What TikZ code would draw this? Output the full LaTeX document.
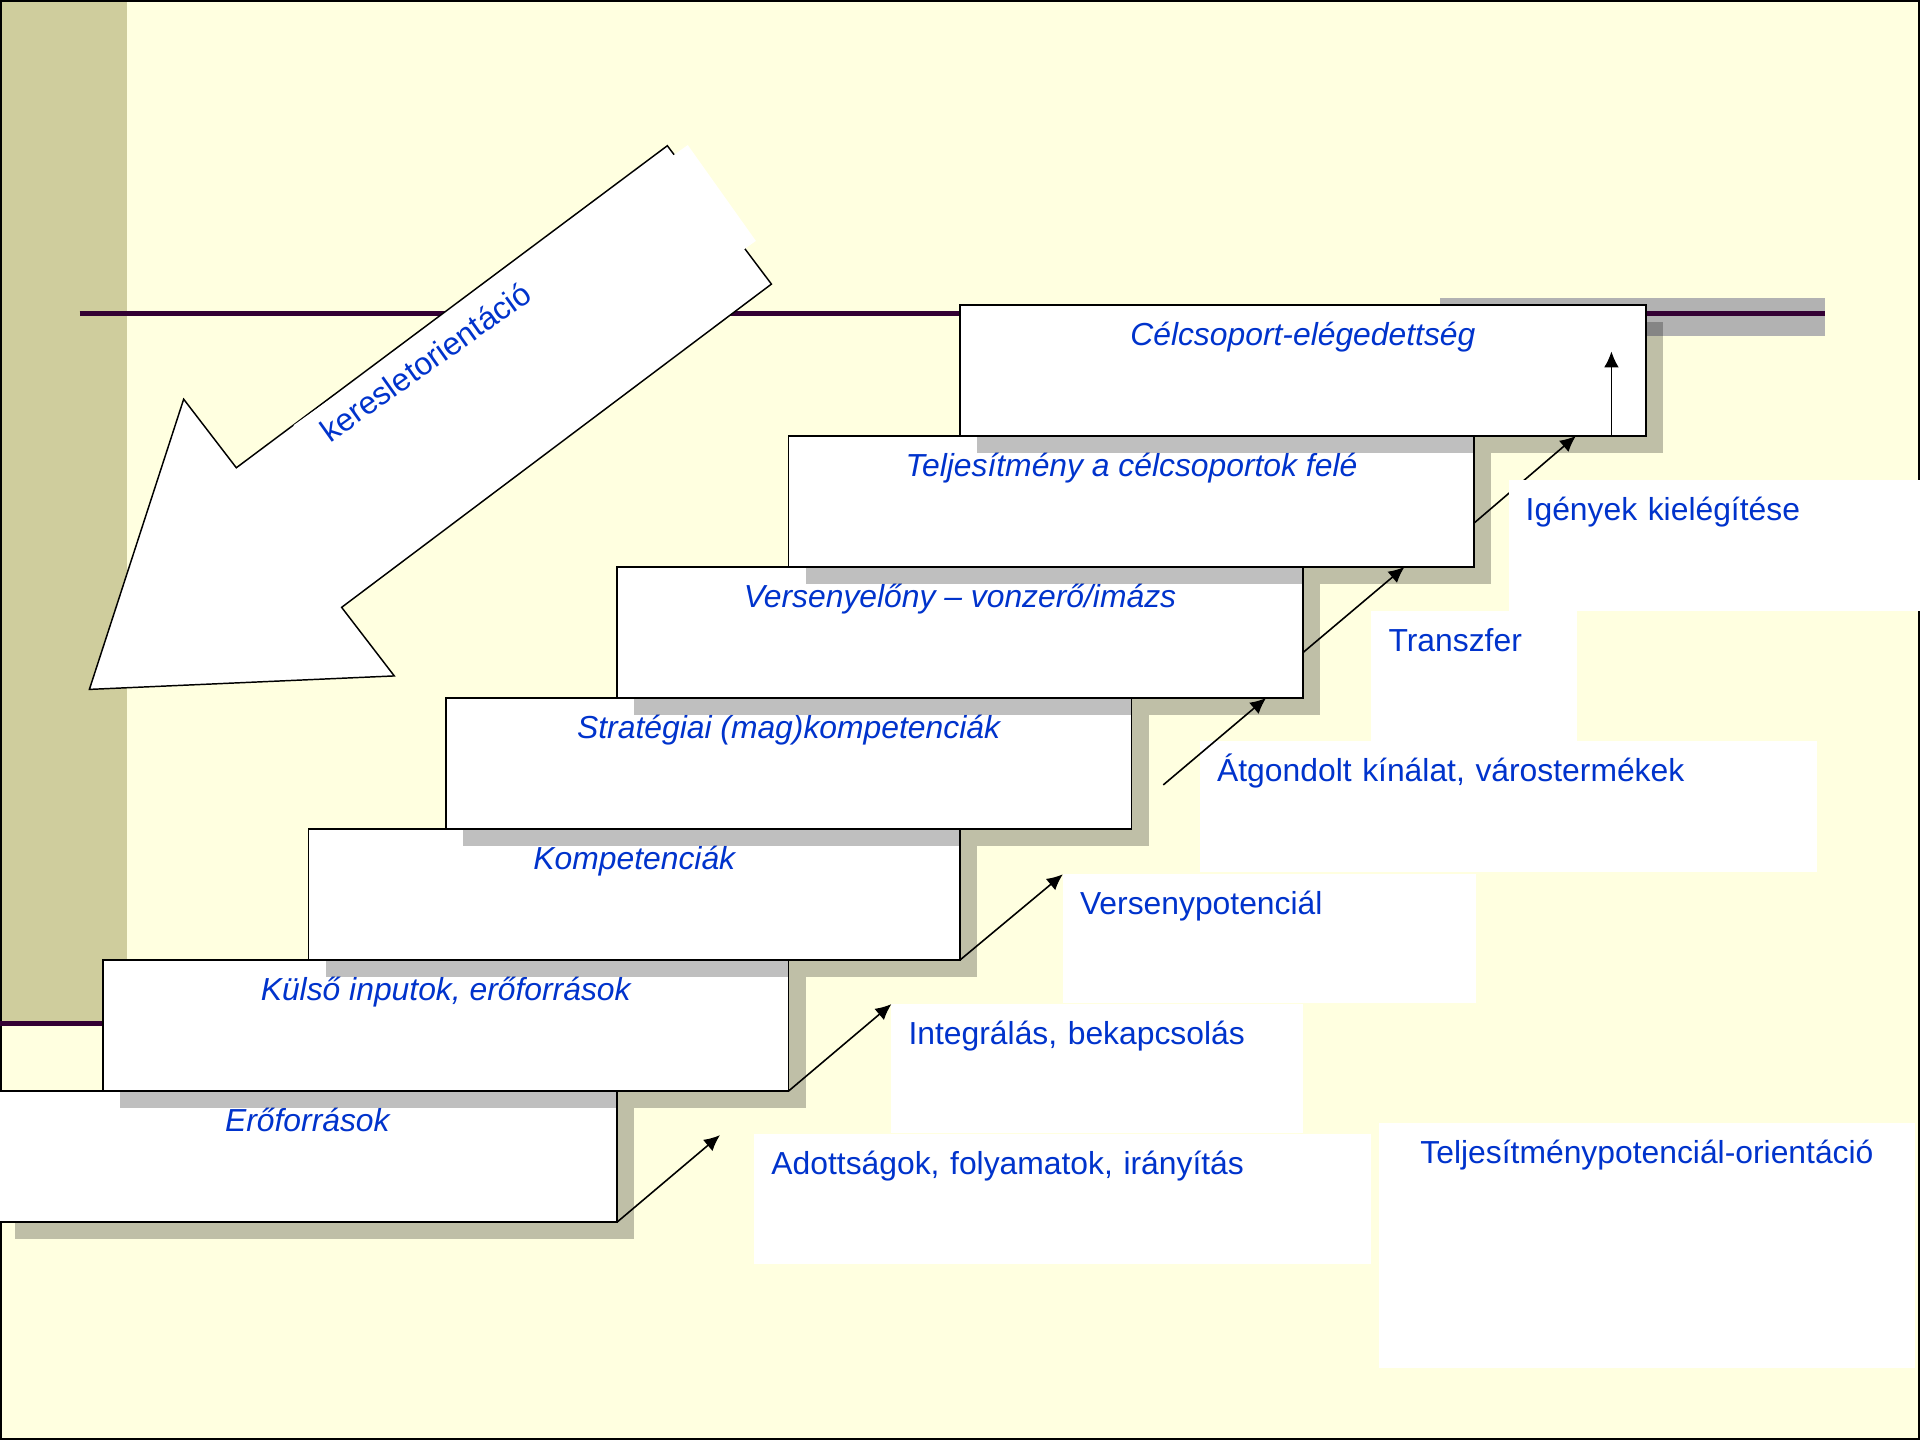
\documentclass[tikz,border=0pt]{standalone}
\usepackage{fontspec}
\setmainfont{Liberation Sans}
\usetikzlibrary{calc, arrows.meta, shadows}
\definecolor{sblue}{HTML}{0033CC}
\definecolor{sback}{HTML}{FFFFE0}
\definecolor{solive}{HTML}{CFCD9D}
\definecolor{sline}{HTML}{330033}
\definecolor{sband}{HTML}{B2B2B2}

\begin{document}
\begin{tikzpicture}[x=1pt, y=-1pt,
    SBX/.style={draw=black, line width=1.4pt, fill=white, outer sep=0pt, inner sep=0pt, minimum height=107pt, text height=33pt, text depth=74pt, font=\fontsize{26}{31}\selectfont\itshape, text=sblue, drop shadow={shadow xshift=14pt, shadow yshift=-14pt, fill=black, opacity=0.25}},
    LBX/.style={fill=white, outer sep=0pt, inner xsep=14pt, inner ysep=0pt, text height=33pt, align=left, anchor=north west, font=\fontsize{26}{31}\selectfont, text=sblue},
    ARR/.style={line width=1.3pt, -{Latex[length=13pt, width=12pt]}}
    ]
        \useasboundingbox (0,0) rectangle (1568,1176);
        % background, band and lines
        \fill[sback] (0,0) rectangle (1568,1176);
        \fill[solive] (0,0) rectangle (104,834);
        \draw[line width=1.5pt] (0.75,0.75) rectangle (1567.25,1175.25);
        \fill[sband] (1176,243) rectangle (1490,274);
        \draw[sline, line width=3.6pt] (65,256) -- (1490,256);
        \draw[sline, line width=3.6pt] (0,836) -- (84,836);
        % big arrow
        \draw[fill=white, line width=1.2pt] (545,119) -- (630,232) -- (279,496) -- (322,552) -- (73,563) -- (150,326) -- (193,382) -- cycle;
        \node[fill=white, rotate=35.4, minimum width=395pt, minimum height=96pt, inner xsep=16pt, inner ysep=0pt, text width=363pt, align=left, text height=29.5pt, text depth=66.5pt, font=\fontsize{26}{31}\selectfont, text=sblue] (KO) at (428.5,272) {keresletorientáció};
        % steps
        \node[SBX, minimum width=506pt, anchor=north west] (S1) at (-2,891) {Erőforrások};
        \node[SBX, minimum width=560pt, anchor=south west] (S2) at ($(S1.north west)+(86,0)$) {Külső inputok, erőforrások};
        \node[SBX, minimum width=532pt, anchor=south west] (S3) at ($(S2.north west)+(168,0)$) {Kompetenciák};
        \node[SBX, minimum width=560pt, anchor=south west] (S4) at ($(S3.north west)+(112,0)$) {Stratégiai (mag)kompetenciák};
        \node[SBX, minimum width=560pt, anchor=south west] (S5) at ($(S4.north west)+(140,0)$) {Versenyelőny – vonzerő/imázs};
        \node[SBX, minimum width=560pt, anchor=south west] (S6) at ($(S5.north west)+(140,0)$) {Teljesítmény a célcsoportok felé};
        \node[SBX, minimum width=560pt, anchor=south west] (S7) at ($(S6.north west)+(140,0)$) {Célcsoport-elégedettség};
        \coordinate (a1) at ($(S1.south east)+(84,-71)$);
        \coordinate (a4s) at ($(S4.north east)+(26,71)$);
        \coordinate (a4e) at ($(S4.north east)+(110,0)$);
        \coordinate (a5s) at ($(S5.south east)+(0,-37)$);
        \coordinate (a5e) at ($(S5.north east)+(83,0)$);
        \coordinate (a6s) at ($(S6.south east)+(0,-36)$);
        \coordinate (a6e) at ($(S6.north east)+(83,0)$);
        \coordinate (a7s) at ($(S7.south east)+(-28,0)$);
        \coordinate (a7e) at ($(S7.south east)+(-28,-69)$);
        \draw[ARR] (a6s) -- (a6e);
        % labels
        \node[LBX, text width=410pt, text depth=167pt, align=center] (T7) at (1126,917) {Teljesítménypotenciál-orientáció};
        \node[LBX, text width=476pt, text depth=73pt] (T1) at (616,926) {Adottságok, folyamatok, irányítás};
        \node[LBX, text width=308pt, text depth=72pt] (T2) at (728,820) {Integrálás, bekapcsolás};
        \node[LBX, text width=309pt, text depth=72pt] (T3) at (868,714) {Versenypotenciál};
        \node[LBX, text width=476pt, text depth=74pt] (T4) at (980,605) {Átgondolt kínálat, várostermékek};
        \node[LBX, text width=140pt, text depth=73pt] (T5) at (1120,499) {Transzfer};
        \node[LBX, text width=308pt, text depth=74pt] (T6) at (1232,392) {Igények kielégítése};
        % arrows
        \draw[ARR] (S1.south east) -- (a1);
        \draw[ARR] (S2.south east) -- (T2.north west);
        \draw[ARR] (S3.south east) -- (T3.north west);
        \draw[ARR] (a4s) -- (a4e);
        \draw[ARR] (a5s) -- (a5e);
        \draw[ARR] (a7s) -- (a7e);
\end{tikzpicture}
\end{document}
